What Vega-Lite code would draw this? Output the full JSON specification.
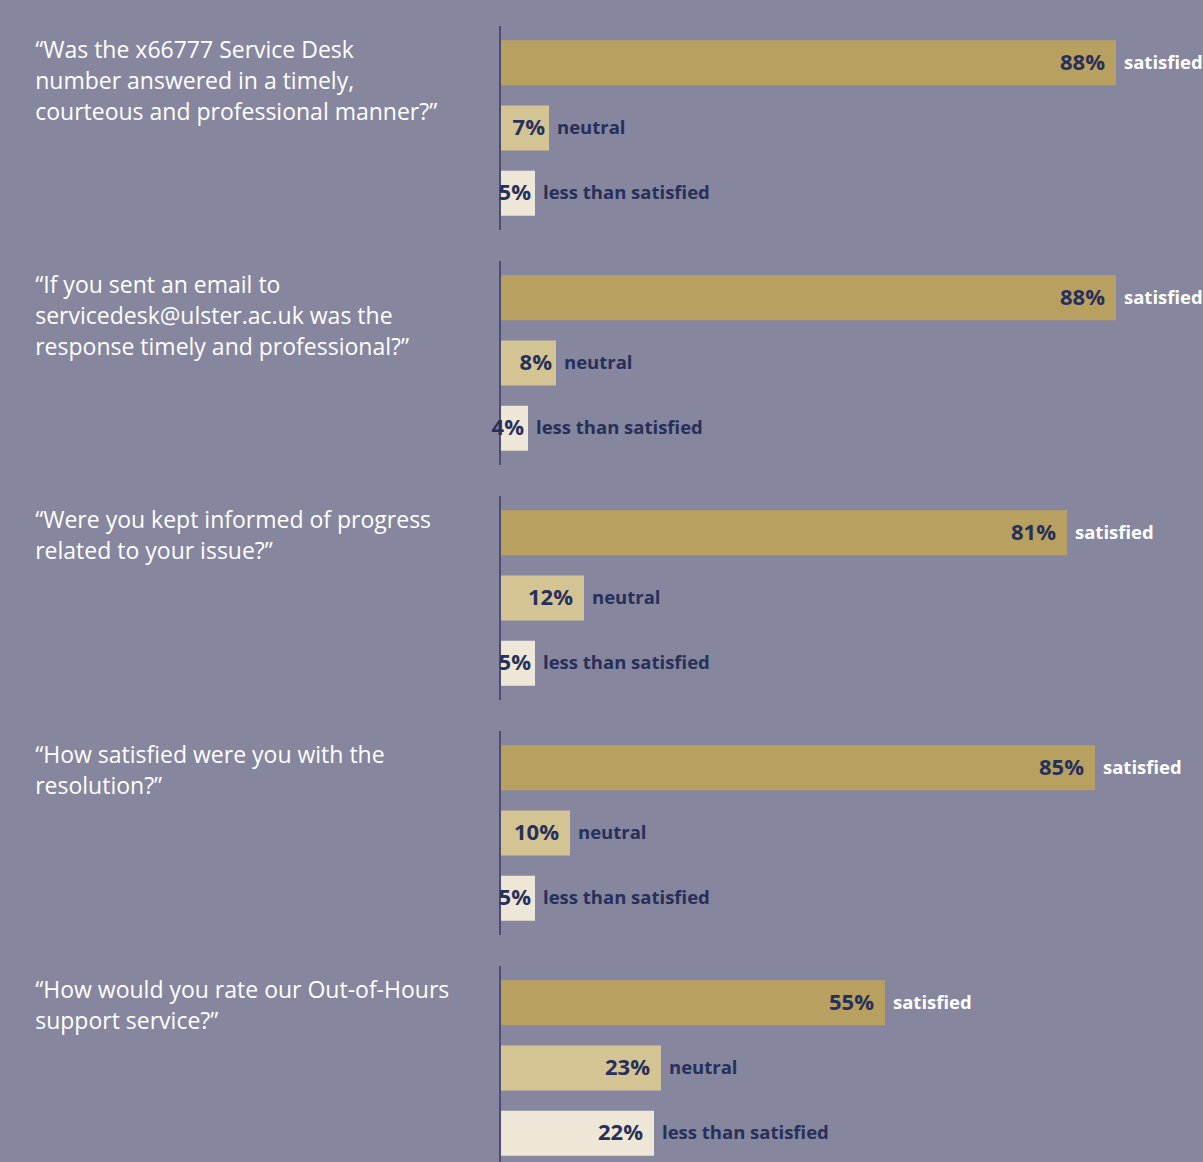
{
  "$schema": "https://vega.github.io/schema/vega-lite/v6.json",
  "background": "#86869e",
  "padding": {"left": 35, "top": 25, "right": 0, "bottom": 0},
  "data": {
    "values": [
      {"order": 1, "question": "“Was the x66777 Service Desk|number answered in a timely,|courteous and professional manner?”", "cat": "satisfied", "pct": 88},
      {"order": 1, "question": "“Was the x66777 Service Desk|number answered in a timely,|courteous and professional manner?”", "cat": "neutral", "pct": 7},
      {"order": 1, "question": "“Was the x66777 Service Desk|number answered in a timely,|courteous and professional manner?”", "cat": "less than satisfied", "pct": 5},
      {"order": 2, "question": "“If you sent an email to|servicedesk@ulster.ac.uk was the|response timely and professional?”", "cat": "satisfied", "pct": 88},
      {"order": 2, "question": "“If you sent an email to|servicedesk@ulster.ac.uk was the|response timely and professional?”", "cat": "neutral", "pct": 8},
      {"order": 2, "question": "“If you sent an email to|servicedesk@ulster.ac.uk was the|response timely and professional?”", "cat": "less than satisfied", "pct": 4},
      {"order": 3, "question": "“Were you kept informed of progress|related to your issue?”", "cat": "satisfied", "pct": 81},
      {"order": 3, "question": "“Were you kept informed of progress|related to your issue?”", "cat": "neutral", "pct": 12},
      {"order": 3, "question": "“Were you kept informed of progress|related to your issue?”", "cat": "less than satisfied", "pct": 5},
      {"order": 4, "question": "“How satisfied were you with the|resolution?”", "cat": "satisfied", "pct": 85},
      {"order": 4, "question": "“How satisfied were you with the|resolution?”", "cat": "neutral", "pct": 10},
      {"order": 4, "question": "“How satisfied were you with the|resolution?”", "cat": "less than satisfied", "pct": 5},
      {"order": 5, "question": "“How would you rate our Out-of-Hours|support service?”", "cat": "satisfied", "pct": 55},
      {"order": 5, "question": "“How would you rate our Out-of-Hours|support service?”", "cat": "neutral", "pct": 23},
      {"order": 5, "question": "“How would you rate our Out-of-Hours|support service?”", "cat": "less than satisfied", "pct": 22}
    ]
  },
  "transform": [{"calculate": "datum.pct + '%'", "as": "label"}],
  "facet": {
    "row": {
      "field": "order",
      "type": "ordinal",
      "title": null,
      "header": {"labels": false}
    }
  },
  "spacing": 29,
  "spec": {
    "width": 700,
    "height": 204,
    "encoding": {
      "y": {
        "field": "cat",
        "type": "nominal",
        "sort": ["satisfied", "neutral", "less than satisfied"],
        "scale": {"paddingInner": 0.31, "paddingOuter": 0.22},
        "axis": null
      },
      "x": {
        "field": "pct",
        "type": "quantitative",
        "scale": {"domain": [0, 100], "nice": false},
        "axis": null
      }
    },
    "layer": [
      {
        "mark": {"type": "bar"},
        "encoding": {
          "color": {
            "field": "cat",
            "type": "nominal",
            "scale": {"domain": ["satisfied", "neutral", "less than satisfied"], "range": ["#b8a060", "#d4c494", "#eee6d6"]},
            "legend": null
          }
        }
      },
      {
        "transform": [{"filter": "datum.cat == 'satisfied'"}],
        "mark": {"type": "rule", "color": "#4c4c74", "strokeWidth": 2},
        "encoding": {"x": {"datum": 0}, "y": null}
      },
      {
        "transform": [{"filter": "datum.pct >= 10"}],
        "mark": {"type": "text", "align": "right", "dx": -11, "font": "Open Sans", "fontWeight": "bold", "fontSize": 22, "color": "#27305a"},
        "encoding": {"text": {"field": "label"}}
      },
      {
        "transform": [{"filter": "datum.pct < 10"}],
        "mark": {"type": "text", "align": "right", "dx": -4, "font": "Open Sans", "fontWeight": "bold", "fontSize": 22, "color": "#27305a"},
        "encoding": {"text": {"field": "label"}}
      },
      {
        "mark": {"type": "text", "align": "left", "dx": 8, "font": "Open Sans", "fontWeight": "bold", "fontSize": 18.5},
        "encoding": {
          "text": {"field": "cat"},
          "color": {"condition": {"test": "datum.cat == 'satisfied'", "value": "#ffffff"}, "value": "#27305a"}
        }
      },
      {
        "transform": [{"filter": "datum.cat == 'satisfied'"}],
        "mark": {"type": "text", "align": "left", "baseline": "alphabetic", "dy": 18, "lineBreak": "|", "lineHeight": 31, "font": "Open Sans", "fontSize": 23, "color": "#ffffff"},
        "encoding": {
          "x": {"datum": -66.4},
          "y": {"field": "cat", "type": "nominal", "bandPosition": 0},
          "text": {"field": "question"}
        }
      }
    ]
  },
  "config": {"view": {"stroke": null}}
}
